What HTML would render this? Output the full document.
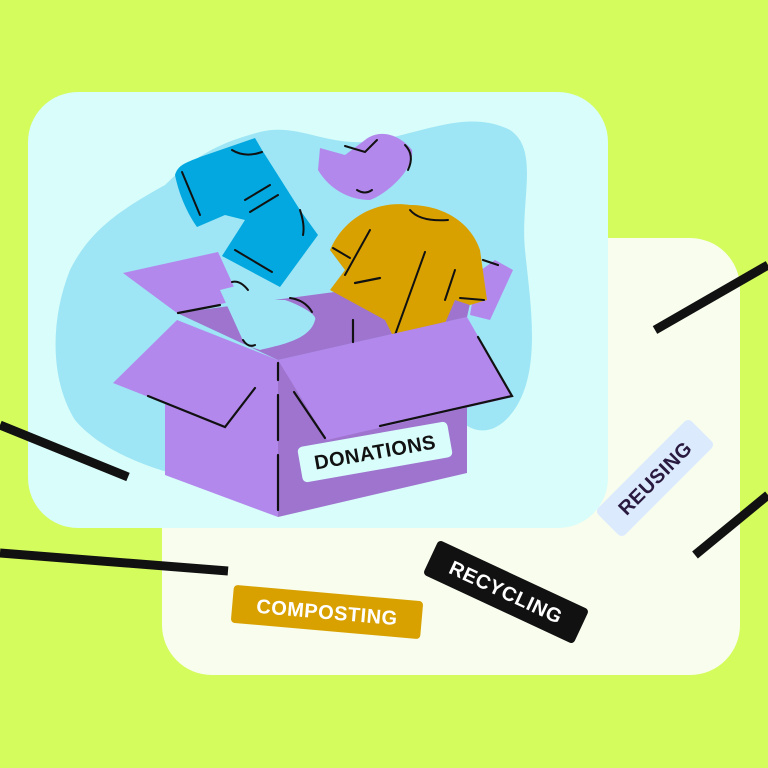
<!DOCTYPE html>
<html><head><style>
html,body{margin:0;padding:0;background:#d4fc5c;}
svg{display:block}
text{font-family:"Liberation Sans",sans-serif;font-weight:900;letter-spacing:0.5px}
</style></head><body>
<svg width="768" height="768" viewBox="0 0 768 768" xmlns="http://www.w3.org/2000/svg">
<rect width="768" height="768" fill="#d4fc5c"/>
<rect x="162" y="238" width="578" height="437" rx="50" fill="#f8fdee"/>
<rect x="28" y="92" width="580" height="436" rx="50" fill="#d8fdfa"/>
<path d="M165 185 C200 150 230 140 260 132 C300 122 330 150 380 140 C430 130 470 110 510 130 C540 150 520 200 525 250 C530 300 540 360 520 400 C505 430 480 440 460 420 L420 470 L200 480 C150 470 100 450 75 420 C50 380 50 320 70 270 C90 230 120 210 165 185 Z" fill="#9ee5f5"/>
<polygon points="123,273 218,252 240,300 177,313" fill="#b388ec"/>
<polygon points="477,273 495,260 513,270 490,320 470,315" fill="#b388ec"/>
<polygon points="177,313 477,273 467,317 278,360" fill="#9e74cf"/>
<path d="M175 175 C178 165 185 163 200 157 L255 138 L262 150 L300 210 L318 235 L280 287 L222 256 L245 220 L225 215 L197 227 C185 210 178 190 175 175 Z" fill="#02a8df"/>
<g stroke="#111" stroke-width="2" fill="none" stroke-linecap="round">
<path d="M182 172 L200 215"/><path d="M232 150 Q245 158 262 152"/><path d="M245 200 L270 185"/><path d="M250 212 L278 195"/><path d="M300 210 Q305 225 303 235"/><path d="M235 250 L272 272"/>
</g>
<path d="M320 148 L345 155 L365 140 C380 128 400 135 412 150 C415 170 385 195 370 200 C350 200 330 190 318 170 Z" fill="#b388ec"/>
<g stroke="#111" stroke-width="2" fill="none" stroke-linecap="round"><path d="M345 146 L365 152 L377 140"/><path d="M405 145 Q415 155 408 170"/><path d="M357 190 Q365 195 372 190"/></g>
<path d="M330 250 C345 215 380 200 410 205 C440 205 470 220 480 250 L487 300 L470 305 L455 300 L440 335 L395 340 L385 320 L330 290 L345 270 Z" fill="#d9a100"/>
<g stroke="#111" stroke-width="2" fill="none" stroke-linecap="round"><path d="M410 210 Q420 222 448 220"/><path d="M333 248 L350 258"/><path d="M370 230 L345 275"/><path d="M425 252 L395 335"/><path d="M455 270 L445 300"/><path d="M460 298 L484 300"/></g>
<path d="M220 290 L240 285 L260 300 L285 300 C300 305 318 315 315 320 C310 340 280 345 260 350 L245 345 Z" fill="#9ee5f5"/>
<g stroke="#111" stroke-width="2" fill="none" stroke-linecap="round"><path d="M232 282 Q240 280 248 290"/><path d="M290 298 Q305 300 312 312"/><path d="M243 340 Q248 348 255 345"/></g>
<polygon points="165,403 278,360 278,517 165,475" fill="#b388ec"/>
<polygon points="278,360 467,317 467,473 278,517" fill="#9e74cf"/>
<polygon points="113,383 177,320 278,360 225,427" fill="#b388ec"/>
<polygon points="278,360 467,317 513,397 327,440" fill="#b388ec"/>
<g stroke="#111" stroke-width="2.2" fill="none" stroke-linecap="round">
<path d="M148 396 L225 427 L255 388"/><path d="M294 392 L325 438"/><path d="M380 426 L512 396 L478 337"/>
<path d="M278 363 L278 380"/><path d="M278 395 L278 440"/><path d="M278 455 L278 510"/>
<path d="M178 313 L220 305"/><path d="M355 283 L380 278"/><path d="M353 320 L353 342"/>
<path d="M483 260 L498 265"/>
</g>
<g transform="translate(375,452) rotate(-10)"><rect x="-76" y="-18" width="152" height="36" rx="5" fill="#d8fdfa"/><text x="0" y="7" font-size="20" text-anchor="middle" fill="#111">DONATIONS</text></g>
<g stroke="#111" stroke-width="9"><line x1="0" y1="425" x2="128" y2="477"/><line x1="0" y1="553" x2="228" y2="571"/><line x1="655" y1="330" x2="768" y2="265"/><line x1="695" y1="555" x2="768" y2="495"/></g>
<g transform="translate(327,612) rotate(5)"><rect x="-95" y="-19" width="190" height="38" rx="4" fill="#d9a100"/><text x="0" y="7" font-size="20" text-anchor="middle" fill="#fff">COMPOSTING</text></g>
<g transform="translate(506,592) rotate(25)"><rect x="-83" y="-19" width="166" height="38" rx="4" fill="#111"/><text x="0" y="7" font-size="20" text-anchor="middle" fill="#fff">RECYCLING</text></g>
<g transform="translate(655,478) rotate(-45)"><rect x="-66" y="-19" width="132" height="38" rx="5" fill="#dbeafd"/><text x="0" y="7" font-size="20" text-anchor="middle" fill="#2a1a40">REUSING</text></g>
</svg>
</body></html>
